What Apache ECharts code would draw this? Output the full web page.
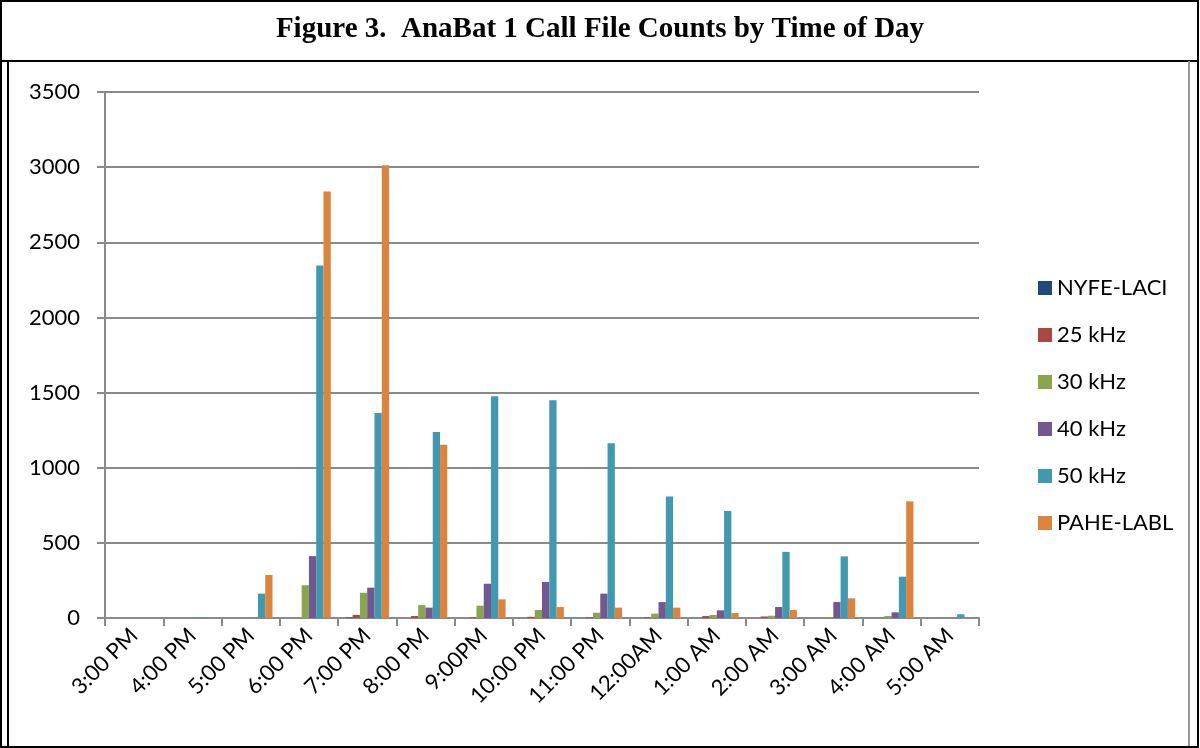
<!DOCTYPE html>
<html>
<head>
<meta charset="utf-8">
<script src="https://cdn.jsdelivr.net/npm/echarts@6/dist/echarts.min.js"></script>
<style>
  html, body { margin: 0; padding: 0; background: #fff; }
  #main { width: 1200px; height: 748px; }
</style>
</head>
<body>
<div id="main"></div>
<script>
// 横轴时间
var hours = ['3:00 PM', '4:00 PM', '5:00 PM', '6:00 PM', '7:00 PM', '8:00 PM', '9:00PM', '10:00 PM',
    '11:00 PM', '12:00AM', '1:00 AM', '2:00 AM', '3:00 AM', '4:00 AM', '5:00 AM'];
// 各类叫声文件数
var nyfeLaci = [0, 0, 0, 0, 3, 0, 0, 0, 0, 0, 0, 0, 0, 0, 0];
var khz25 = [0, 0, 0, 0, 20, 13, 4, 8, 5, 4, 13, 10, 0, 0, 0];
var khz30 = [0, 0, 0, 218, 168, 86, 82, 53, 35, 29, 20, 15, 7, 13, 0];
var khz40 = [0, 0, 0, 412, 202, 69, 228, 240, 162, 106, 51, 73, 106, 38, 0];
var khz50 = [0, 3, 162, 2346, 1364, 1238, 1476, 1449, 1163, 808, 712, 440, 410, 275, 25];
var paheLabl = [0, 0, 286, 2838, 3013, 1153, 124, 73, 69, 69, 33, 53, 131, 776, 0];
var yTicks = [0, 500, 1000, 1500, 2000, 2500, 3000, 3500];

var names = ['NYFE-LACI', '25 kHz', '30 kHz', '40 kHz', '50 kHz', 'PAHE-LABL'];
var color = ['#1F497D', '#AA4643', '#89A54E', '#71588F', '#4198AF', '#DB843D'];
var lists = [nyfeLaci, khz25, khz30, khz40, khz50, paheLabl];

var series = [];
for (var i = 0; i < names.length; i++) {
    series.push({
        name: names[i],
        type: 'bar',
        data: lists[i],
        barGap: '0%',
        barCategoryGap: '25%'
    });
}

var myChart = echarts.init(document.getElementById('main'));
var option = {
    animation: false,
    color: color,
    title: {
        text: 'Figure 3.  AnaBat 1 Call File Counts by Time of Day',
        left: 'center',
        top: 10,
        textStyle: {
            fontFamily: 'Liberation Serif',
            fontWeight: 'bold',
            fontSize: 29,
            color: '#000'
        }
    },
    legend: {
        orient: 'vertical',
        left: 1033,
        top: 272,
        itemWidth: 14,
        itemHeight: 14,
        itemGap: 25,
        icon: 'rect',
        data: names,
        textStyle: {
            fontFamily: 'Lato',
            fontSize: 22,
            color: '#000'
        }
    },
    grid: {
        left: 105,
        right: 221,
        top: 92,
        bottom: 130,
        containLabel: false
    },
    xAxis: {
        type: 'category',
        data: hours,
        axisLine: { lineStyle: { color: '#8a8a8a', width: 2 } },
        axisTick: { show: true, length: 8, lineStyle: { color: '#8a8a8a', width: 2 } },
        axisLabel: {
            rotate: 45,
            interval: 0,
            margin: 14,
            fontFamily: 'Lato',
            fontSize: 22,
            color: '#000'
        }
    },
    yAxis: {
        type: 'value',
        min: yTicks[0],
        max: yTicks[yTicks.length - 1],
        interval: 500,
        axisLine: { show: true, lineStyle: { color: '#8a8a8a', width: 2 } },
        axisTick: { show: true, length: 8, lineStyle: { color: '#8a8a8a', width: 2 } },
        splitLine: { lineStyle: { color: '#8a8a8a', width: 2 } },
        axisLabel: {
            margin: 25,
            fontFamily: 'Lato',
            fontSize: 22,
            color: '#000',
            formatter: function (v) { return String(v); }
        }
    },
    series: series,
    graphic: [
        { type: 'rect', shape: { x: 1, y: 1, width: 1197, height: 746 }, style: { fill: 'none', stroke: '#000', lineWidth: 2 }, silent: true },
        { type: 'line', shape: { x1: 1, y1: 61, x2: 1198, y2: 61 }, style: { stroke: '#000', lineWidth: 2 }, silent: true },
        { type: 'line', shape: { x1: 8, y1: 61, x2: 8, y2: 746 }, style: { stroke: '#000', lineWidth: 2 }, silent: true },
        { type: 'line', shape: { x1: 1189, y1: 61, x2: 1189, y2: 746 }, style: { stroke: '#999', lineWidth: 2 }, silent: true }
    ]
};
myChart.setOption(option);
</script>
</body>
</html>
